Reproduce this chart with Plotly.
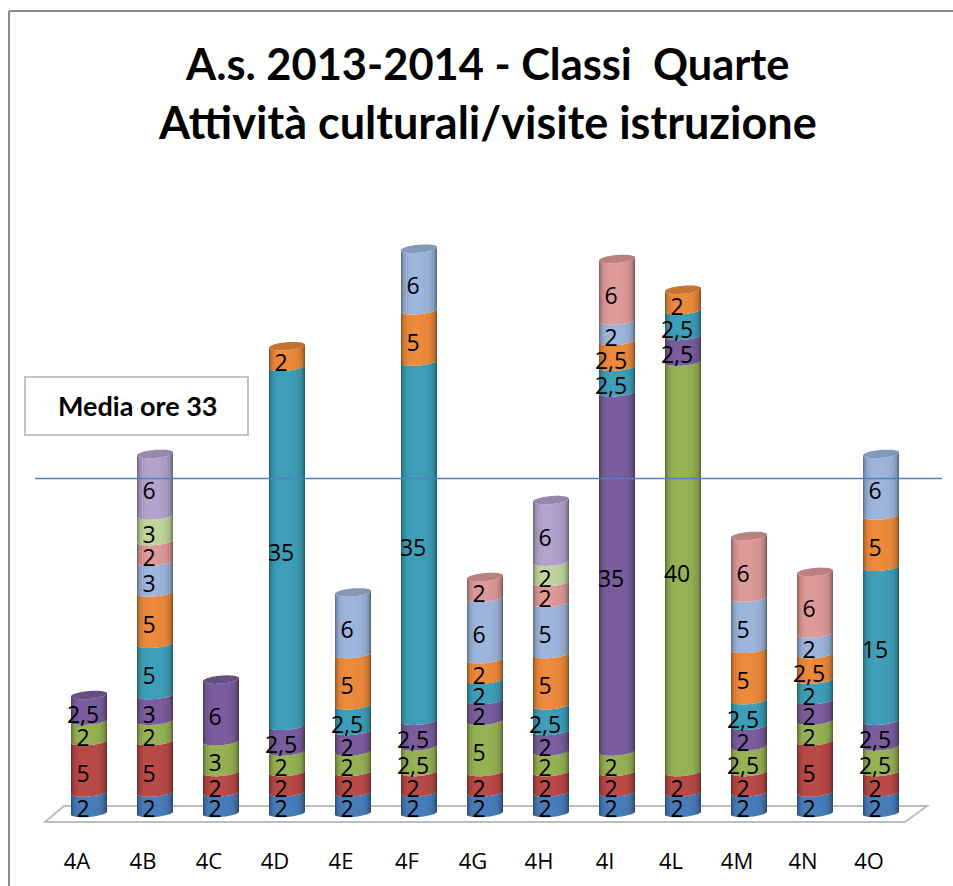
import numpy as np
import plotly.graph_objects as go

classes = ["4A","4B","4C","4D","4E","4F","4G","4H","4I","4L","4M","4N","4O"]
s_blue     = [2,2,2,2,2,2,2,2,2,2,2,2,2]
s_red      = [5,5,2,2,2,2,2,2,2,2,2,5,2]
s_green    = [2,2,3,2,2,2.5,5,2,2,40,2.5,2,2.5]
s_purple   = [2.5,2.5,6,2.5,2,2.5,2,2,35,2.5,2,2,2.5]
s_teal     = [0,5,0,35,2.5,35,2,2.5,2.5,2.5,2.5,2,15]
s_orange   = [0,5,0,2,5,5,2,5,2.5,2,5,2.5,5]
s_ltblue   = [0,3,0,0,6,6,6,5,2,0,5,2,6]
s_pink     = [0,2,0,0,0,0,2,2,6,0,6,6,0]
s_ltgreen  = [0,2.5,0,0,0,0,0,2,0,0,0,0,0]
s_lavender = [0,6,0,0,0,0,0,6,0,0,0,0,0]
series = [s_blue,s_red,s_green,s_purple,s_teal,s_orange,s_ltblue,s_pink,s_ltgreen,s_lavender]
colors = ["#4A7FBD","#BC4B48","#98B555","#7D5FA0","#3FA1BC","#F08C3C","#9FB8DF","#E09C9B","#C3D8A0","#B5A5CF"]
# labels printed rounded in the source chart
label_overrides = {(1,3):"3",(1,8):"3"}
mean_hours = 33
mean_label = "Media ore 33"
title_1 = "A.s. 2013-2014 - Classi\u00a0 Quarte"
title_2 = "Attività culturali/visite istruzione"

W, H = 953, 886
PLOT_BOTTOM = 846
BASE_PX = 817      # pixel row of value 0
STEP_PX = 66.0     # px between columns
X0_PX = 89.0       # px of first column
UNIT_PX = 10.26    # px per value unit
COL_W = 36         # px
K = 4.0 / UNIT_PX  # half-height of the ellipse in value units
TILT = 1.5 / UNIT_PX
LABEL_DROP = 5.0 / UNIT_PX

def rgb(h): return np.array([int(h[i:i+2],16) for i in (1,3,5)], float)
def shade(h, u, extra=1.0):
    # cylinder lighting: bright slightly left of centre, dark towards edges
    m = 0.99 - 0.08*(u+0.15)**2 - 0.36*np.abs(u)**7
    m = m*extra
    c = np.clip(rgb(h)*m, 0, 255).astype(int)
    return f"rgb({c[0]},{c[1]},{c[2]})"

us = (np.arange(COL_W)+0.5)/COL_W*2-1
xs, bases, ys, offs, cols = [], [], [], [], []
strip_w = 1.0/STEP_PX
tx, ty, tt = [], [], []
for ci in range(len(classes)):
    cum = 0.0
    top_color = None
    for si, s in enumerate(series):
        v = s[ci]
        if not v:
            continue
        for j, u in enumerate(us):
            r = np.sqrt(max(1-u*u,0))
            xs.append(ci); bases.append(cum + K*(1-r) + TILT*u); ys.append(v)
            offs.append(us[j]*COL_W/2/STEP_PX - strip_w/2); cols.append(shade(colors[si],u))
        lab = label_overrides.get((ci,si), str(v).replace(".",","))
        tx.append(ci-0.09); ty.append(cum+v/2-LABEL_DROP); tt.append(lab)
        cum += v
        top_color = colors[si]
    for j, u in enumerate(us):
        r = np.sqrt(max(1-u*u,0))
        xs.append(ci); bases.append(cum + K*(1-r) + TILT*u); ys.append(2*K*r)
        offs.append(us[j]*COL_W/2/STEP_PX - strip_w/2); cols.append(shade(top_color,u*0.4,0.84))

fig = go.Figure()
fig.add_trace(go.Bar(x=xs, y=ys, base=bases, offset=offs, width=[strip_w]*len(xs),
                     marker=dict(color=cols, line=dict(width=0)), hoverinfo="skip", showlegend=False))
x_lo = (0-X0_PX)/STEP_PX; x_hi = (W-X0_PX)/STEP_PX
fig.add_trace(go.Scatter(x=[(35-X0_PX)/STEP_PX,(942-X0_PX)/STEP_PX], y=[mean_hours]*2, mode="lines",
                         line=dict(color="#4F81BD", width=1.5), hoverinfo="skip", showlegend=False))
fig.add_trace(go.Scatter(x=tx, y=ty, text=tt, mode="text", textposition="middle center",
                         textfont=dict(family="Open Sans", size=23, color="#000"),
                         hoverinfo="skip", showlegend=False))

def px(x): return x/W
def py(y): return (PLOT_BOTTOM-y)/PLOT_BOTTOM
shapes = [
    dict(type="path", xref="paper", yref="paper", layer="below",
         path=f"M {px(45)} {py(822)} L {px(64)} {py(806)} L {px(927)} {py(806)} L {px(905)} {py(822)} Z",
         line=dict(color="#BDBDBD", width=2), fillcolor="#FFFFFF"),
    dict(type="line", xref="paper", yref="paper", x0=px(9), x1=px(9), y0=py(886), y1=py(11),
         line=dict(color="#8C8C8C", width=2), layer="below"),
    dict(type="line", xref="paper", yref="paper", x0=px(9), x1=1, y0=py(11), y1=py(11),
         line=dict(color="#8C8C8C", width=2), layer="below"),
    dict(type="rect", xref="paper", yref="paper", x0=px(25), x1=px(248), y0=py(435), y1=py(377),
         line=dict(color="#C4C4C4", width=2), fillcolor="#FFFFFF", layer="below"),
]
annotations = [
    dict(text=mean_label, xref="paper", yref="paper", x=px(137), y=py(405), showarrow=False,
         xanchor="center", yanchor="middle",
         font=dict(family="Lato", size=27, color="#000", weight="bold")),
    dict(text=title_1, xref="paper", yref="paper", x=px(488), y=py(63), showarrow=False,
         xanchor="center", yanchor="middle",
         font=dict(family="Lato", size=43.4, color="#000", weight="bold")),
    dict(text=title_2, xref="paper", yref="paper", x=px(488), y=py(122), showarrow=False,
         xanchor="center", yanchor="middle",
         font=dict(family="Lato", size=45, color="#000", weight="bold")),
]
fig.update_layout(
    width=W, height=H, margin=dict(l=0,r=0,t=0,b=H-PLOT_BOTTOM), barmode="overlay",
    paper_bgcolor="#FFFFFF", plot_bgcolor="rgba(0,0,0,0)", showlegend=False,
    shapes=shapes, annotations=annotations,
    xaxis=dict(range=[x_lo,x_hi], tickmode="array", tickvals=[i-12/STEP_PX for i in range(len(classes))],
               ticktext=classes, showgrid=False, zeroline=False, showline=False, ticks="",
               tickfont=dict(family="Open Sans", size=22, color="#000")),
    yaxis=dict(range=[(BASE_PX-PLOT_BOTTOM)/UNIT_PX, BASE_PX/UNIT_PX], visible=False),
)
fig.write_html("out.html", config={"displayModeBar": False},
               post_script="document.body.style.margin='0';document.documentElement.style.overflow='hidden';")
